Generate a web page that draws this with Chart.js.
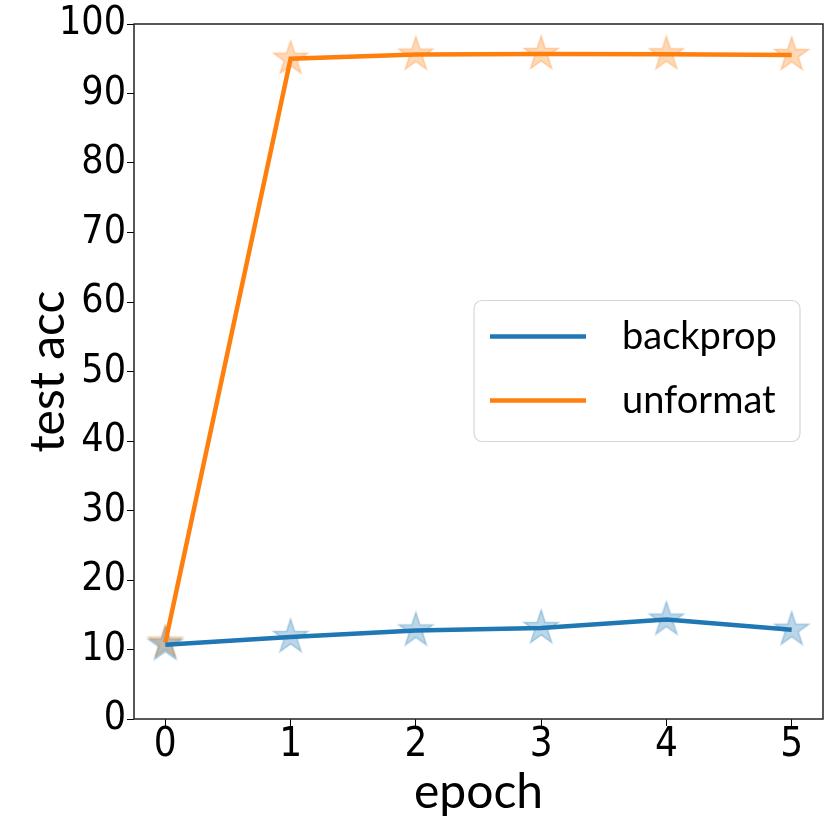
<!DOCTYPE html>
<html>
<head>
<meta charset="utf-8">
<script src="https://cdn.jsdelivr.net/npm/chart.js@4.4.0/dist/chart.umd.min.js"></script>
<style>
html, body { margin: 0; padding: 0; background: #fff; }
#wrap { width: 831px; height: 831px; }
</style>
</head>
<body>
<div id="wrap"><canvas id="plot" width="831" height="831"></canvas></div>
<script>
// data
var epochs = [0, 1, 2, 3, 4, 5];
var backprop = [10.7, 11.8, 12.75, 13.1, 14.3, 12.85];
var unformat = [11.0, 95.0, 95.6, 95.7, 95.65, 95.55];
var xTicks = [0, 1, 2, 3, 4, 5];
var yTicks = [0, 10, 20, 30, 40, 50, 60, 70, 80, 90, 100];
var seriesNames = ['backprop', 'unformat'];

var BLUE = '#1f77b4';
var ORANGE = '#ff7f0e';
var tickFont = "'Liberation Sans Narrow', 'DejaVu Sans Condensed', 'Liberation Sans', sans-serif";
var textFont = "Lato, 'Open Sans', sans-serif";

function toPoints(ys) {
    return epochs.map(function (x, i) { return { x: x, y: ys[i] }; });
}

// filled 5-point star like matplotlib's '*' marker
function makeStar(r, g, b, rad) {
    var c = document.createElement('canvas');
    var s = Math.ceil(rad * 2 + 4);
    c.width = s; c.height = s;
    var ctx = c.getContext('2d');
    ctx.beginPath();
    for (var i = 0; i < 10; i++) {
        var rr = i % 2 === 0 ? rad : rad * 0.382;
        var a = -Math.PI / 2 + i * Math.PI / 5;
        var px = s / 2 + rr * Math.cos(a), py = s / 2 + rr * Math.sin(a);
        if (i === 0) ctx.moveTo(px, py); else ctx.lineTo(px, py);
    }
    ctx.closePath();
    ctx.fillStyle = 'rgba(' + r + ',' + g + ',' + b + ',0.3)';
    ctx.fill();
    ctx.strokeStyle = 'rgba(' + r + ',' + g + ',' + b + ',0.3)';
    ctx.lineWidth = 1.5;
    ctx.stroke();
    return c;
}
var starBlue = makeStar(31, 119, 180, 18);
var starOrange = makeStar(255, 127, 14, 18);

// frame around the plot area
var framePlugin = {
    id: 'frame',
    afterDatasetsDraw: function (chart) {
        var a = chart.chartArea, ctx = chart.ctx;
        ctx.save();
        ctx.strokeStyle = '#222';
        ctx.lineWidth = 1.5;
        ctx.strokeRect(a.left, a.top, a.right - a.left, a.bottom - a.top);
        ctx.restore();
    }
};

// matplotlib style legend box inside the axes, right middle
var legendPlugin = {
    id: 'mplLegend',
    afterDraw: function (chart) {
        var a = chart.chartArea, ctx = chart.ctx;
        var boxR = a.right - 23, boxW = 326, boxH = 141;
        var boxL = boxR - boxW;
        var boxT = (a.top + a.bottom) / 2 - boxH / 2 - 0.5;
        ctx.save();
        ctx.beginPath();
        ctx.roundRect(boxL, boxT, boxW, boxH, 8);
        ctx.fillStyle = 'rgba(255,255,255,0.8)';
        ctx.fill();
        ctx.strokeStyle = '#d6d6d6';
        ctx.lineWidth = 1.2;
        ctx.stroke();
        var colors = [BLUE, ORANGE];
        ctx.font = '38px ' + textFont;
        ctx.textBaseline = 'middle';
        ctx.textAlign = 'left';
        for (var i = 0; i < seriesNames.length; i++) {
            var y = boxT + 36 + i * 64;
            ctx.beginPath();
            ctx.moveTo(boxL + 16, y);
            ctx.lineTo(boxL + 112, y);
            ctx.strokeStyle = colors[i];
            ctx.lineWidth = 4.5;
            ctx.stroke();
            ctx.fillStyle = '#000';
            ctx.fillText(seriesNames[i], boxL + 148, y);
        }
        ctx.restore();
    }
};

var config = {
    type: 'line',
    data: {
        datasets: [
            { label: seriesNames[0], data: toPoints(backprop), borderColor: BLUE, borderWidth: 4.5,
              pointRadius: 0, tension: 0, fill: false, order: 1 },
            { label: seriesNames[1], data: toPoints(unformat), borderColor: ORANGE, borderWidth: 4.5,
              pointRadius: 0, tension: 0, fill: false, order: 2 },
            { label: 'bp stars', data: toPoints(backprop), showLine: false, pointStyle: starBlue,
              pointRadius: 18, order: 3 },
            { label: 'uf stars', data: toPoints(unformat), showLine: false, pointStyle: starOrange,
              pointRadius: 18, order: 4 }
        ]
    },
    options: {
        responsive: false,
        animation: false,
        devicePixelRatio: 1,
        layout: { autoPadding: false, padding: { top: 24, right: 8, left: 0, bottom: 0 } },
        plugins: { legend: { display: false }, tooltip: { enabled: false } },
        scales: {
            x: {
                type: 'linear',
                min: -0.25,
                max: 5.25,
                afterBuildTicks: function (axis) { axis.ticks = xTicks.map(function (v) { return { value: v }; }); },
                afterFit: function (axis) { axis.height = 112; axis.paddingLeft = 0; axis.paddingRight = 0; },
                grid: { drawOnChartArea: false, drawTicks: true, tickLength: 7, tickColor: '#000' },
                border: { display: false },
                ticks: { color: '#000', padding: 0, maxRotation: 0,
                         font: { family: tickFont, size: 40, lineHeight: 1.0 } },
                title: { display: true, text: 'epoch', color: '#000',
                         font: { family: textFont, size: 48, lineHeight: 1.2 },
                         padding: { top: 0, bottom: 10 } }
            },
            y: {
                min: 0,
                max: 100,
                afterBuildTicks: function (axis) { axis.ticks = yTicks.map(function (v) { return { value: v }; }); },
                afterFit: function (axis) { axis.width = 134; axis.paddingTop = 0; axis.paddingBottom = 0; },
                grid: { drawOnChartArea: false, drawTicks: true, tickLength: 7, tickColor: '#000' },
                border: { display: false },
                ticks: { color: '#000', padding: 1,
                         font: { family: tickFont, size: 39, lineHeight: 1.0 } },
                title: { display: true, text: 'test acc', color: '#000',
                         font: { family: textFont, size: 48, lineHeight: 1.2 },
                         padding: { top: 20, bottom: 0 } }
            }
        }
    },
    plugins: [framePlugin, legendPlugin]
};

var chart = new Chart(document.getElementById('plot').getContext('2d'), config);
</script>
</body>
</html>
